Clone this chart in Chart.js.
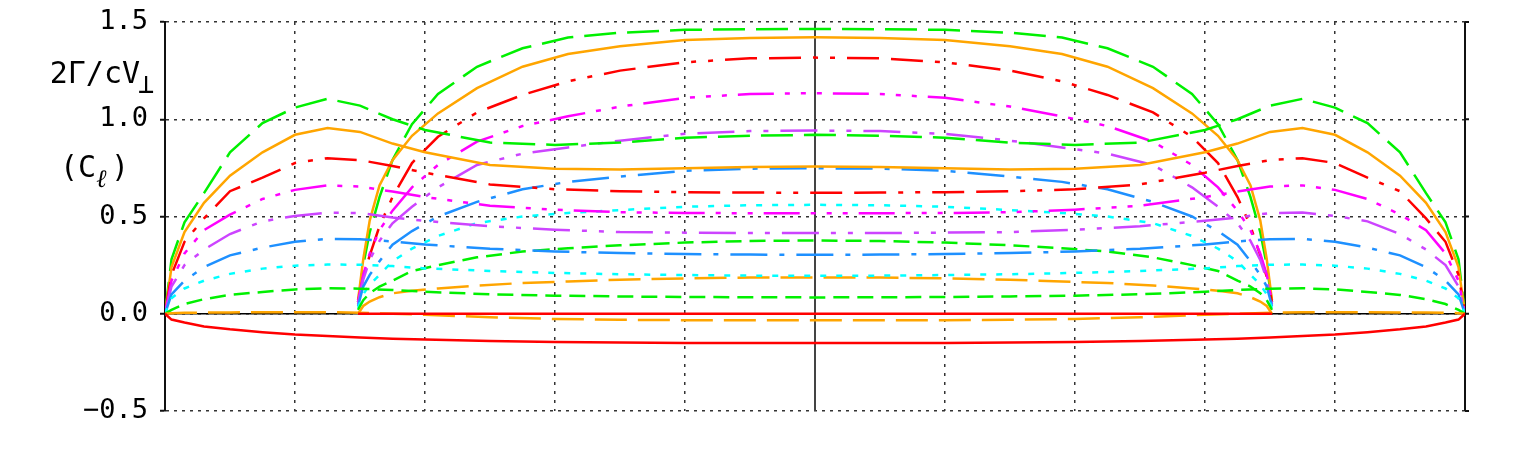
<!DOCTYPE html>
<html>
<head>
<meta charset="utf-8">
<script src="https://cdn.jsdelivr.net/npm/chart.js@4.4.0/dist/chart.umd.min.js"></script>
<style>
  html, body { margin: 0; padding: 0; background: #fff; }
</style>
</head>
<body>
<canvas id="loadChart" width="1538" height="449"></canvas>
<script>
// spanwise stations (outer wing -1..1, inner wing about -0.7..0.7)
const xOuter = [-1,-0.99,-0.97,-0.94,-0.9,-0.85,-0.8,-0.75,-0.7,-0.65,-0.6,-0.5,-0.4,-0.3,-0.2,-0.1,0,0.1,0.2,0.3,0.4,0.5,0.6,0.65,0.7,0.75,0.8,0.85,0.9,0.94,0.97,0.99,1];
const xInner = [-0.703,-0.695,-0.685,-0.67,-0.65,-0.62,-0.58,-0.52,-0.45,-0.38,-0.3,-0.2,-0.1,0,0.1,0.2,0.3,0.38,0.45,0.52,0.58,0.62,0.65,0.67,0.685,0.695,0.703];

// outer wing loading curves
const outerGreen   = [0,0.28,0.47,0.62,0.83,0.98,1.06,1.105,1.07,1.0,0.945,0.88,0.868,0.88,0.905,0.915,0.92,0.915,0.905,0.88,0.868,0.88,0.945,1.0,1.07,1.105,1.06,0.98,0.83,0.62,0.47,0.28,0];
const outerOrange  = [0,0.24,0.42,0.57,0.71,0.83,0.92,0.955,0.935,0.875,0.83,0.765,0.745,0.742,0.748,0.755,0.757,0.755,0.748,0.742,0.745,0.765,0.83,0.875,0.935,0.955,0.92,0.83,0.71,0.57,0.42,0.24,0];
const outerRed     = [0,0.2,0.37,0.49,0.63,0.7,0.775,0.8,0.79,0.76,0.725,0.665,0.64,0.63,0.625,0.623,0.622,0.623,0.625,0.63,0.64,0.665,0.725,0.76,0.79,0.8,0.775,0.7,0.63,0.49,0.37,0.2,0];
const outerMagenta = [0,0.17,0.31,0.43,0.51,0.59,0.637,0.66,0.654,0.628,0.6,0.555,0.535,0.522,0.518,0.517,0.517,0.517,0.518,0.522,0.535,0.555,0.6,0.628,0.654,0.66,0.637,0.59,0.51,0.43,0.31,0.17,0];
const outerPurple  = [0,0.14,0.25,0.33,0.41,0.475,0.503,0.52,0.518,0.495,0.478,0.45,0.432,0.42,0.417,0.415,0.415,0.415,0.417,0.42,0.432,0.45,0.478,0.495,0.518,0.52,0.503,0.475,0.41,0.33,0.25,0.14,0];
const outerBlue    = [0,0.1,0.17,0.24,0.3,0.34,0.37,0.385,0.383,0.372,0.356,0.334,0.32,0.312,0.307,0.304,0.303,0.304,0.307,0.312,0.32,0.334,0.356,0.372,0.383,0.385,0.37,0.34,0.3,0.24,0.17,0.1,0];
const outerCyan    = [0,0.08,0.13,0.17,0.205,0.232,0.247,0.253,0.252,0.245,0.233,0.22,0.21,0.203,0.199,0.196,0.195,0.196,0.199,0.203,0.21,0.22,0.233,0.245,0.252,0.253,0.247,0.232,0.205,0.17,0.13,0.08,0];
const outerGreen2  = [0,0.02,0.05,0.075,0.097,0.112,0.125,0.131,0.129,0.122,0.113,0.1,0.093,0.089,0.086,0.085,0.084,0.085,0.086,0.089,0.093,0.1,0.113,0.122,0.129,0.131,0.125,0.112,0.097,0.075,0.05,0.02,0];
const outerOrange2 = [0,0.003,0.005,0.006,0.007,0.008,0.008,0.008,0.005,0,-0.005,-0.018,-0.027,-0.031,-0.033,-0.034,-0.034,-0.034,-0.033,-0.031,-0.027,-0.018,-0.005,0,0.005,0.008,0.008,0.008,0.007,0.006,0.005,0.003,0];
const outerRed2    = [0,-0.03,-0.045,-0.065,-0.08,-0.095,-0.107,-0.115,-0.122,-0.128,-0.133,-0.14,-0.145,-0.148,-0.15,-0.151,-0.151,-0.151,-0.15,-0.148,-0.145,-0.14,-0.133,-0.128,-0.122,-0.115,-0.107,-0.095,-0.08,-0.065,-0.045,-0.03,0];

// inner wing loading curves
const innerGreen   = [0.06,0.25,0.42,0.6,0.79,0.975,1.13,1.27,1.365,1.42,1.445,1.46,1.463,1.464,1.463,1.46,1.445,1.42,1.365,1.27,1.13,0.975,0.79,0.6,0.42,0.25,0.06];
const innerOrange  = [0.07,0.28,0.48,0.66,0.79,0.915,1.03,1.16,1.27,1.335,1.375,1.408,1.418,1.421,1.418,1.408,1.375,1.335,1.27,1.16,1.03,0.915,0.79,0.66,0.48,0.28,0.07];
const innerRed     = [0.06,0.19,0.3,0.45,0.6,0.775,0.91,1.035,1.125,1.195,1.25,1.293,1.313,1.317,1.313,1.293,1.25,1.195,1.125,1.035,0.91,0.775,0.6,0.45,0.3,0.19,0.06];
const innerMagenta = [0.06,0.2,0.31,0.43,0.53,0.65,0.765,0.885,0.965,1.015,1.065,1.11,1.13,1.134,1.13,1.11,1.065,1.015,0.965,0.885,0.765,0.65,0.53,0.43,0.31,0.2,0.06];
const innerPurple  = [0.05,0.175,0.277,0.375,0.465,0.55,0.65,0.765,0.823,0.855,0.89,0.925,0.939,0.942,0.939,0.925,0.89,0.855,0.823,0.765,0.65,0.55,0.465,0.375,0.277,0.175,0.05];
const innerBlue    = [0.04,0.14,0.2,0.27,0.355,0.425,0.5,0.575,0.64,0.678,0.705,0.735,0.746,0.748,0.746,0.735,0.705,0.678,0.64,0.575,0.5,0.425,0.355,0.27,0.2,0.14,0.04];
const innerCyan    = [0.03,0.1,0.15,0.2,0.27,0.335,0.4,0.466,0.5,0.518,0.533,0.55,0.558,0.56,0.558,0.55,0.533,0.518,0.5,0.466,0.4,0.335,0.27,0.2,0.15,0.1,0.03];
const innerGreen2  = [0.02,0.07,0.106,0.14,0.17,0.22,0.25,0.29,0.32,0.337,0.352,0.366,0.374,0.377,0.374,0.366,0.352,0.337,0.32,0.29,0.25,0.22,0.17,0.14,0.106,0.07,0.02];
const innerOrange2 = [0,0.04,0.063,0.085,0.105,0.118,0.13,0.145,0.158,0.166,0.175,0.182,0.186,0.187,0.186,0.182,0.175,0.166,0.158,0.145,0.13,0.118,0.105,0.085,0.063,0.04,0];
const innerRed2    = [0,0,0,0,0,0,0,0,0,0,0,0,0,0,0,0,0,0,0,0,0,0,0,0,0,0,0];

const yTicks = [-0.5, 0, 0.5, 1.0, 1.5];

const GREEN = '#00f000', ORANGE = '#ffa500', RED = '#ff0000', MAGENTA = '#ff00ff',
      PURPLE = '#cc44ff', BLUE = '#1e90ff', CYAN = '#00ffff';

const LONG = [32, 11];
const DASH2DOT2 = [32, 12, 32, 12, 5, 12, 5, 12];
const DASHDOT3 = [36, 11, 5, 11, 5, 11, 5, 11];
const DASHDOT2 = [37, 12, 5, 12, 5, 12];
const DASHDOT = [37, 12, 5, 12];
const DOTS = [6, 10];
const SHORT = [16, 8];
const SOLID = [];

function pts(xs, ys) {
  return xs.map((x, i) => ({ x: x, y: ys[i] }));
}

function line(xs, ys, color, dash) {
  return {
    data: pts(xs, ys),
    borderColor: color,
    borderDash: dash,
    borderWidth: 2.5,
    pointRadius: 0,
    fill: false,
    tension: 0
  };
}

const datasets = [
  line(xInner, innerRed2, RED, SOLID),
  line(xOuter, outerRed2, RED, SOLID),
  line(xOuter, outerOrange2, ORANGE, LONG),
  line(xOuter, outerGreen2, GREEN, SHORT),
  line(xOuter, outerCyan, CYAN, DOTS),
  line(xOuter, outerBlue, BLUE, DASHDOT),
  line(xOuter, outerPurple, PURPLE, DASHDOT2),
  line(xOuter, outerMagenta, MAGENTA, DASHDOT3),
  line(xOuter, outerRed, RED, DASH2DOT2),
  line(xOuter, outerOrange, ORANGE, SOLID),
  line(xOuter, outerGreen, GREEN, LONG),
  line(xInner, innerOrange2, ORANGE, LONG),
  line(xInner, innerGreen2, GREEN, SHORT),
  line(xInner, innerCyan, CYAN, DOTS),
  line(xInner, innerBlue, BLUE, DASHDOT),
  line(xInner, innerPurple, PURPLE, DASHDOT2),
  line(xInner, innerMagenta, MAGENTA, DASHDOT3),
  line(xInner, innerRed, RED, DASH2DOT2),
  line(xInner, innerOrange, ORANGE, SOLID),
  line(xInner, innerGreen, GREEN, LONG)
];

// solid zero line, centre line and right-hand axis with ticks
const framePlugin = {
  id: 'frame',
  beforeDatasetsDraw(chart) {
    const c = chart.ctx, a = chart.chartArea;
    const xs = chart.scales.x, ys = chart.scales.y;
    c.save();
    c.setLineDash([]);
    c.strokeStyle = '#000';
    c.lineWidth = 1.5;
    const y0 = ys.getPixelForValue(0);
    c.beginPath(); c.moveTo(a.left, y0); c.lineTo(a.right, y0); c.stroke();
    c.strokeStyle = '#444';
    c.lineWidth = 2;
    const x0 = xs.getPixelForValue(0);
    c.beginPath(); c.moveTo(x0, a.top); c.lineTo(x0, a.bottom); c.stroke();
    c.strokeStyle = '#111';
    const xr = xs.getPixelForValue(1);
    c.beginPath(); c.moveTo(xr, a.top); c.lineTo(xr, a.bottom); c.stroke();
    yTicks.forEach(v => {
      const yy = ys.getPixelForValue(v);
      c.beginPath(); c.moveTo(xr, yy); c.lineTo(xr + 4, yy); c.stroke();
    });
    c.restore();
  },
  afterDraw(chart) {
    const c = chart.ctx;
    c.save();
    c.fillStyle = '#000';
    c.textBaseline = 'alphabetic';
    c.textAlign = 'right';
    c.font = '30px "DejaVu Sans Mono"';
    c.fillText('2Γ/cV', 140, 83);
    c.textAlign = 'left';
    c.font = '27px "DejaVu Sans Mono"';
    c.fillText('⊥', 138, 93);
    c.font = '30px "DejaVu Sans Mono"';
    c.fillText('(C', 60, 177);
    c.font = 'italic 25px "DejaVu Sans Mono"';
    c.fillText('ℓ', 96, 187);
    c.font = '30px "DejaVu Sans Mono"';
    c.fillText(')', 111, 177);
    c.restore();
  }
};

new Chart(document.getElementById('loadChart'), {
  type: 'line',
  data: { datasets: datasets },
  options: {
    responsive: false,
    animation: false,
    layout: { autoPadding: false, padding: { left: 0, right: 73, top: 22, bottom: 38 } },
    plugins: {
      legend: { display: false },
      tooltip: { enabled: false }
    },
    scales: {
      x: {
        type: 'linear',
        min: -1,
        max: 1,
        ticks: { display: false, stepSize: 0.2 },
        grid: { color: '#333', lineWidth: 1.5, drawTicks: false },
        border: { display: false, dash: [3, 6] },
        afterFit: s => { s.height = 0; s.paddingLeft = 0; s.paddingRight = 0; }
      },
      y: {
        min: -0.5,
        max: 1.5,
        ticks: {
          stepSize: 0.5,
          padding: 12,
          color: '#000',
          font: { family: 'DejaVu Sans Mono', size: 27 },
          callback: v => (v < 0 ? '\u2212' : '') + Math.abs(v).toFixed(1)
        },
        grid: { color: '#333', lineWidth: 1.5, tickLength: 5, tickColor: '#111', tickWidth: 2 },
        border: { display: true, color: '#111', width: 2, dash: [3, 5] },
        afterFit: s => { s.width = 165; s.paddingTop = 0; s.paddingBottom = 0; }
      }
    }
  },
  plugins: [framePlugin]
});
</script>
</body>
</html>
